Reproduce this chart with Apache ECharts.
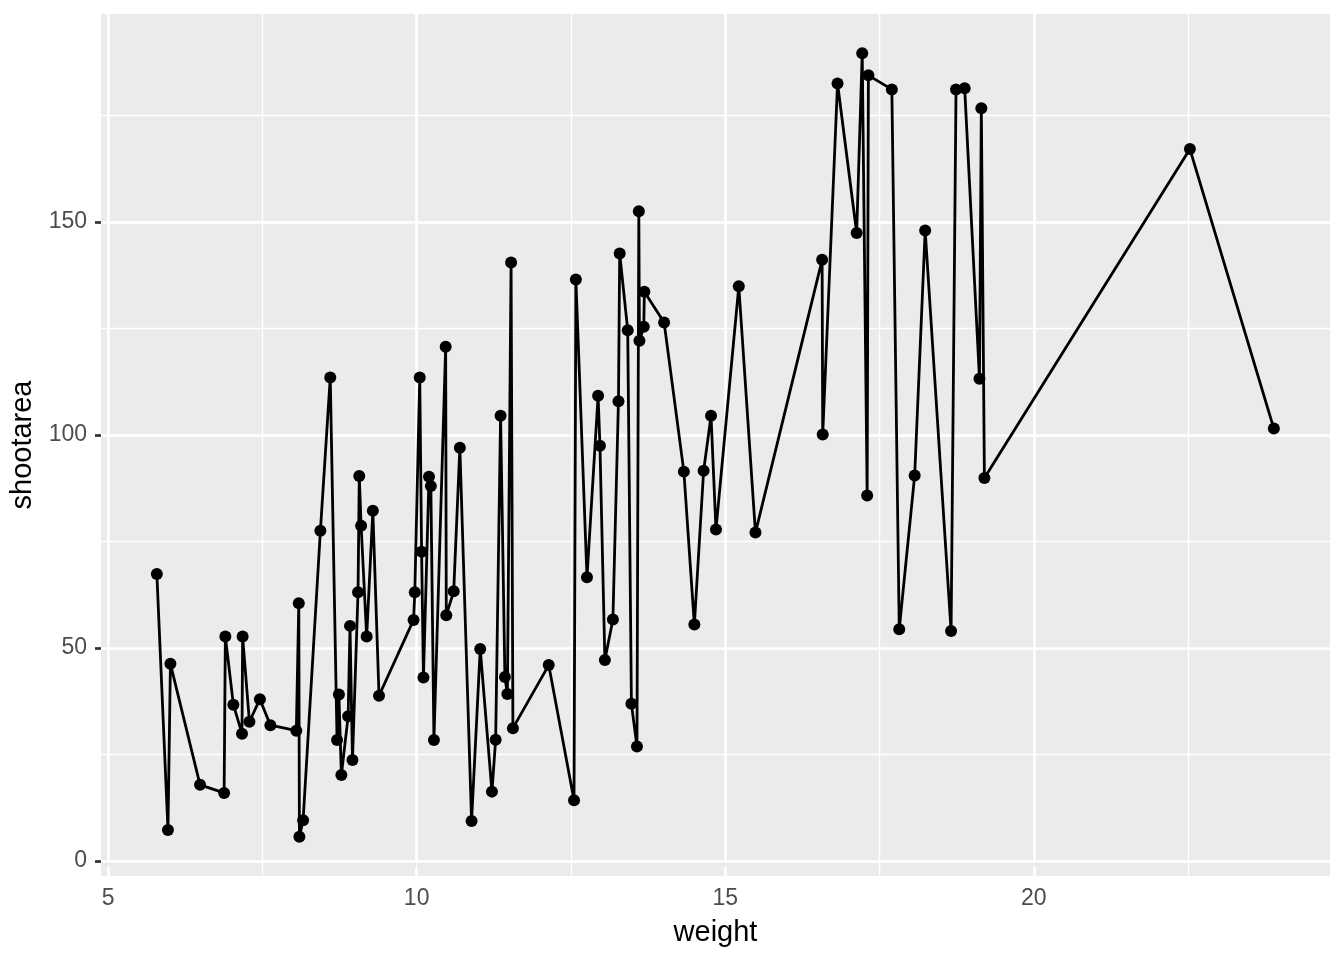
<!DOCTYPE html>
<html><head><meta charset="utf-8">
<script src="https://cdn.jsdelivr.net/npm/echarts@6/dist/echarts.min.js"></script>
<style>html,body{margin:0;padding:0;background:#fff}#c{width:1344px;height:960px}</style>
</head><body><div id="c"></div>
<script>
const weight = [5.79,5.97,6.01,6.49,6.88,6.90,7.03,7.17,7.18,7.29,7.46,7.63,8.05,8.09,8.10,8.16,
  8.44,8.60,8.71,8.74,8.78,8.89,8.92,8.96,9.05,9.07,9.10,9.19,9.29,9.39,
  9.95,9.97,10.05,10.08,10.11,10.20,10.23,10.28,10.47,10.48,10.60,10.70,10.89,
  11.03,11.22,11.28,11.36,11.43,11.47,11.53,11.56,12.14,12.55,12.58,12.76,12.94,12.97,
  13.05,13.18,13.27,13.29,13.42,13.48,13.57,13.60,13.61,13.68,13.69,14.01,14.33,14.50,
  14.65,14.77,14.85,15.22,15.49,16.57,16.58,16.82,17.13,17.22,17.30,17.32,17.70,17.82,
  18.07,18.24,18.66,18.74,18.88,19.12,19.15,19.20,22.53,23.89];
const shootarea = [67.4,7.3,46.3,17.9,16.0,52.7,36.7,29.9,52.7,32.7,38.0,31.9,30.6,60.5,5.7,9.6,
  77.5,113.5,28.4,39.1,20.2,34.0,55.2,23.7,63.1,90.4,78.7,52.7,82.2,38.8,
  56.6,63.1,113.5,72.6,43.1,90.2,88.0,28.4,120.7,57.7,63.3,97.0,9.4,
  49.8,16.3,28.5,104.5,43.2,39.2,140.5,31.2,46.0,14.3,136.5,66.6,109.2,97.5,
  47.2,56.7,107.9,142.6,124.6,36.9,26.9,152.5,122.1,125.4,133.6,126.4,91.4,55.5,
  91.6,104.5,77.8,134.9,77.1,141.1,100.1,182.5,147.4,189.6,85.8,184.4,181.1,54.4,
  90.5,148.0,54.0,181.1,181.4,113.2,176.7,89.9,167.1,101.5];
const xMajor = [5,10,15,20];
const xMinor = [7.5,12.5,17.5,22.5];
const yMajor = [0,50,100,150];
const yMinor = [25,75,125,175];

const pts = weight.map((w,i)=>[w, shootarea[i]]);
const chart = echarts.init(document.getElementById('c'), null, {renderer:'canvas'});
const gl = (arr, key, width) => arr.map(v => ({[key]: v, lineStyle:{color:'#FFFFFF', width:width, type:'solid'}}));
const font = 'Liberation Sans';
chart.setOption({
  animation:false,
  backgroundColor:'#FFFFFF',
  grid:{left:101, right:14, top:14, bottom:84, show:true, backgroundColor:'#EBEBEB', borderWidth:0},
  xAxis:{type:'value', min:4.885, max:24.8, splitLine:{show:false}, axisLine:{show:false},
    axisTick:{show:true, customValues:xMajor, length:6, lineStyle:{color:'#333333', width:2.7}},
    axisLabel:{customValues:xMajor, color:'#4D4D4D', fontSize:23, margin:11, fontFamily:font},
    name:'weight', nameLocation:'middle', nameGap:42, nameTextStyle:{color:'#000', fontSize:29, fontFamily:font}},
  yAxis:{type:'value', min:-3.5, max:198.8, splitLine:{show:false}, axisLine:{show:false},
    axisTick:{show:true, customValues:yMajor, length:6, lineStyle:{color:'#333333', width:2.7}},
    axisLabel:{customValues:yMajor, color:'#4D4D4D', fontSize:23, margin:14, fontFamily:font},
    name:'shootarea', nameLocation:'middle', nameGap:58, nameRotate:90, nameTextStyle:{color:'#000', fontSize:29, fontFamily:font}},
  series:[
    {type:'line', data:[], z:1, silent:true,
     markLine:{silent:true, symbol:['none','none'], label:{show:false}, animation:false,
       data:[...gl(xMinor,'xAxis',1.4), ...gl(yMinor,'yAxis',1.4), ...gl(xMajor,'xAxis',2.7), ...gl(yMajor,'yAxis',2.7)]}},
    {type:'line', data:pts, zlevel:1, z:3, symbol:'circle', symbolSize:12, showSymbol:true,
     itemStyle:{color:'#000'}, lineStyle:{color:'#000', width:2.8}}
  ]
});
</script></body></html>
